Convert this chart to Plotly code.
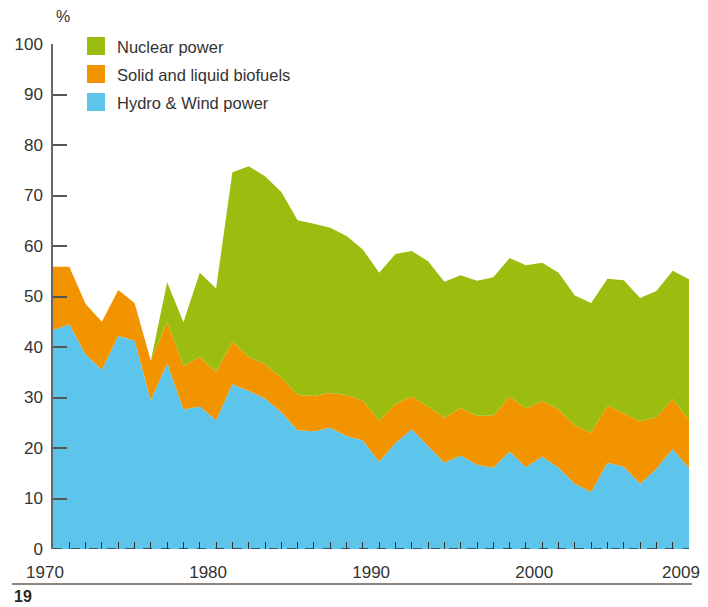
import plotly.graph_objects as go

years = list(range(1970, 2010))

hydro_wind = [43.3, 44.5, 38.5, 35.5, 42.2, 41.3, 29.4, 36.8, 27.6, 28.2,
              25.5, 32.6, 31.3, 29.8, 27.1, 23.5, 23.3, 24.0, 22.4, 21.5,
              17.3, 21.0, 23.7, 20.4, 17.1, 18.5, 16.7, 16.1, 19.3, 16.2,
              18.3, 16.1, 12.9, 11.3, 17.1, 16.3, 12.9, 15.9, 19.8, 16.0]

biofuels = [12.6, 11.4, 10.0, 9.5, 9.1, 7.4, 7.9, 8.2, 8.7, 9.8,
            9.6, 8.5, 6.7, 6.8, 6.8, 7.0, 7.0, 6.9, 8.1, 7.9,
            8.1, 7.7, 6.5, 7.8, 8.9, 9.4, 9.7, 10.3, 10.9, 11.6,
            11.0, 11.5, 11.6, 11.7, 11.3, 10.5, 12.4, 10.2, 9.9, 9.6]

nuclear = [0, 0, 0, 0, 0, 0, 0, 7.8, 8.6, 16.7,
           16.5, 33.5, 37.8, 37.2, 36.8, 34.6, 34.1, 32.7, 31.5, 29.9,
           29.3, 29.7, 28.8, 28.8, 26.9, 26.3, 26.7, 27.4, 27.4, 28.4,
           27.4, 27.1, 25.7, 25.7, 25.1, 26.4, 24.4, 25.0, 25.4, 27.8]

series_names = ["Hydro & Wind power", "Solid and liquid biofuels", "Nuclear power"]
series_colors = ["#5DC5EC", "#F29400", "#9ABD0F"]

labelled_years = [1970, 1980, 1990, 2000, 2009]
y_ticks = list(range(0, 101, 10))

page_number = "19"

FONT = "Liberation Sans, Arial, Helvetica, sans-serif"
TEXT = "#333333"

fig = go.Figure()
for name, vals, col in zip(series_names, [hydro_wind, biofuels, nuclear], series_colors):
    fig.add_trace(go.Scatter(
        x=years, y=vals, name=name, mode="lines",
        stackgroup="one", line=dict(width=0, color=col),
        fillcolor=col, showlegend=False, hoverinfo="x+y+name",
    ))

# the page body adds an 8px offset; figure sized so the plot area sits at
# page pixels x 53..689, y 44..549
fig.update_layout(
    width=700, height=599,
    margin=dict(l=45, r=19, t=36, b=58),
    paper_bgcolor="white", plot_bgcolor="white",
    font=dict(family=FONT, size=16, color=TEXT),
    showlegend=False,
)

fig.update_xaxes(
    range=[1970, 2009], automargin=False,
    tickmode="array", tickvals=years,
    ticktext=[str(y) if y in labelled_years else "" for y in years],
    ticks="inside", ticklen=7, tickwidth=1.2, tickcolor="#333333",
    showline=False, showgrid=False, zeroline=False,
    ticklabelstandoff=11, ticklabelshift=-8,
    tickfont=dict(family=FONT, size=17, color=TEXT),
)
fig.update_yaxes(
    range=[0, 100], automargin=False,
    tickmode="array", tickvals=y_ticks,
    ticks="inside", ticklen=14, tickwidth=1.5, tickcolor="#555555",
    showline=True, linecolor="#666666", linewidth=1.5,
    showgrid=False, zeroline=False,
    ticklabelstandoff=5,
    tickfont=dict(family=FONT, size=17, color=TEXT),
)

# dashed baseline
fig.add_shape(type="line", xref="x", yref="y", x0=1970, x1=2009, y0=0, y1=0,
              line=dict(color="#333333", width=1.5, dash="dash"), layer="above")

# bottom rule under the chart
fig.add_shape(type="line", xref="paper", yref="paper",
              x0=-0.0645, x1=1.0047, y0=-0.0693, y1=-0.0693,
              line=dict(color="#6b5d52", width=1.5))

# % unit label
fig.add_annotation(text="%", xref="paper", yref="paper", x=0, y=1,
                   xanchor="left", yanchor="middle", xshift=1, yshift=28,
                   showarrow=False, font=dict(family=FONT, size=16, color=TEXT))

# page number
fig.add_annotation(text="<b>" + page_number + "</b>", xref="paper", yref="paper",
                   x=-0.0645, y=-0.095, xanchor="left", yanchor="middle",
                   showarrow=False, font=dict(family=FONT, size=16, color="#2e2620"))

# manual legend (top to bottom: nuclear, biofuels, hydro)
leg_x0 = 87
leg_top = 37
step = 28
sq = 18
pl, pt, pw, ph = 53, 44, 636, 505

def px_to_paper(px, py):
    return (px - pl) / pw, 1 - (py - pt) / ph

for i, (name, col) in enumerate(zip(series_names[::-1], series_colors[::-1])):
    top = leg_top + i * step
    xa, ya = px_to_paper(leg_x0, top)
    xb, yb = px_to_paper(leg_x0 + sq, top + sq)
    fig.add_shape(type="rect", xref="paper", yref="paper",
                  x0=xa, x1=xb, y0=yb, y1=ya, fillcolor=col, line=dict(width=0))
    tx, ty = px_to_paper(leg_x0 + sq + 10, top + sq / 2 + 1)
    fig.add_annotation(text=name, xref="paper", yref="paper", x=tx, y=ty,
                       xanchor="left", yanchor="middle", showarrow=False,
                       font=dict(family=FONT, size=16.5, color=TEXT))

fig.write_html("out.html")
